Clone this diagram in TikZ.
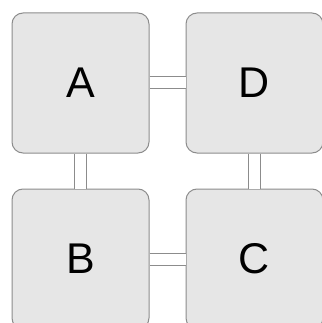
\documentclass[tikz,border=0pt]{standalone}
\usepackage{fontspec}
\setmainfont{Liberation Sans}
\usetikzlibrary{positioning}

\definecolor{boxfill}{HTML}{E6E6E6}
\definecolor{boxline}{HTML}{8C8C8C}

\tikzset{
  cell/.style={draw=boxline, fill=boxfill, line width=1pt, rounded corners=11pt,
    minimum width=137pt, minimum height=140pt, inner sep=0pt,
    font=\fontsize{43pt}{43pt}\selectfont},
  link/.style={draw=boxline, line width=1pt, double=white, double distance=11pt}
}

\begin{document}
\begin{tikzpicture}[x=1pt,y=1pt]
    \useasboundingbox (0,0) rectangle (321,-323);
    % Knoten
    \node[cell] (A) at (80.5,-83) {A};
    \node[cell, right=36pt of A] (D) {D};
    \node[cell, below=35pt of A] (B) {B};
    \node[cell, below=35pt of D] (C) {C};

    % Verbindungen
    \draw[link] (A) -- (D);
    \draw[link] (A) -- (B);
    \draw[link] (D) -- (C);
    \draw[link] (B) -- (C);
\end{tikzpicture}
\end{document}
